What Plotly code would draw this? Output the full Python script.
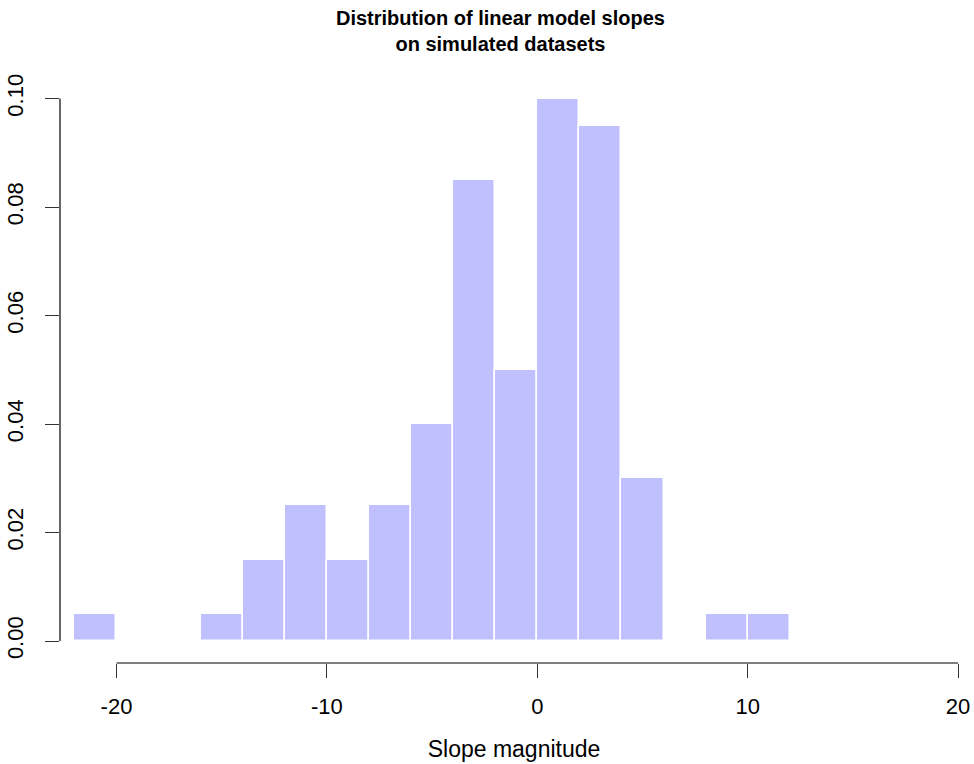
import plotly.graph_objects as go

# Histogram bins (width 2) and densities
bin_left = [-22, -20, -18, -16, -14, -12, -10, -8, -6, -4, -2, 0, 2, 4, 6, 8, 10]
density = [0.005, 0, 0, 0.005, 0.015, 0.025, 0.015, 0.025, 0.04, 0.085,
           0.05, 0.1, 0.095, 0.03, 0, 0.005, 0.005]
bin_width = 2
x_ticks = [-20, -10, 0, 10, 20]
y_ticks = [0.00, 0.02, 0.04, 0.06, 0.08, 0.10]
y_tick_labels = ["0.00", "0.02", "0.04", "0.06", "0.08", "0.10"]

centers = [b + bin_width / 2 for b in bin_left]

FONT = "Liberation Sans, Arial, Helvetica, sans-serif"

fig = go.Figure()
fig.add_trace(go.Bar(
    x=centers, y=density, width=[bin_width] * len(centers),
    marker=dict(color="#C0C0FF", line=dict(color="white", width=1.5)),
    hoverinfo="x+y", showlegend=False,
))

W, H = 974, 764
ml, mr, mt, mb = 60, 6, 77, 101
plot_w = W - ml - mr
plot_h = H - mt - mb
xr = [-22.685, 20.471]
yr = [-0.004055, 0.103965]

fig.update_layout(
    width=W, height=H,
    margin=dict(l=ml, r=mr, t=mt, b=mb, pad=0, autoexpand=False),
    paper_bgcolor="white", plot_bgcolor="white",
    font=dict(family=FONT, size=22, color="black"),
    bargap=0,
    xaxis=dict(
        range=xr, showgrid=False, zeroline=False, showline=False, automargin=False,
        tickmode="array", tickvals=x_ticks, ticktext=[str(v) for v in x_ticks],
        ticks="outside", ticklen=14, tickwidth=1, tickcolor="#333",
        tickfont=dict(size=22), ticklabelstandoff=10,
        title=dict(text="Slope magnitude", font=dict(size=23), standoff=22),
    ),
    yaxis=dict(
        range=yr, showgrid=False, zeroline=False, showline=False, automargin=False,
        tickmode="array", tickvals=y_ticks, ticktext=y_tick_labels,
        ticks="outside", ticklen=14, tickwidth=1, tickcolor="#333",
        tickfont=dict(size=22), tickangle=-90, ticklabelstandoff=13,
    ),
    annotations=[
        dict(
            text="<b>Distribution of linear model slopes</b><br><b>on simulated datasets</b>",
            xref="paper", yref="paper",
            x=(500 - ml) / plot_w, y=1 + (mt - 5) / plot_h,
            xanchor="center", yanchor="top", showarrow=False,
            font=dict(family=FONT, size=20, color="black"),
        )
    ],
    shapes=[
        dict(type="line", xref="x", yref="paper", x0=x_ticks[0], x1=x_ticks[-1],
             y0=0, y1=0, line=dict(color="black", width=1.2)),
        dict(type="line", xref="paper", yref="y", x0=0, x1=0,
             y0=y_ticks[0], y1=y_ticks[-1], line=dict(color="black", width=1.2)),
    ],
)

fig.write_html("out.html", config={"displayModeBar": False},
               post_script="document.body.style.margin='0';")
